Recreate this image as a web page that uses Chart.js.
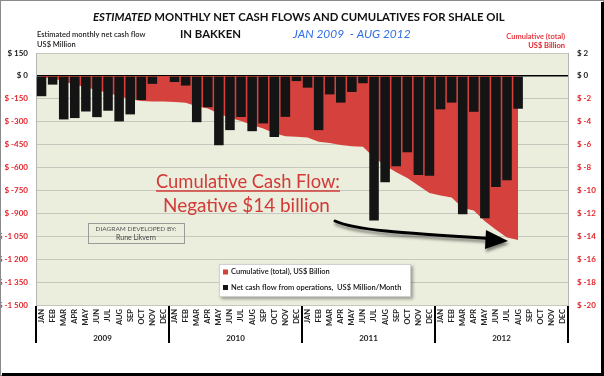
<!DOCTYPE html>
<html><head><meta charset="utf-8">
<script src="https://cdn.jsdelivr.net/npm/chart.js@4/dist/chart.umd.min.js"></script>
<style>html,body{margin:0;padding:0;background:#fff;}#wrap{position:relative;width:604px;height:376px;}canvas{display:block;}</style>
</head><body><div id="wrap"><canvas id="c" width="604" height="376"></canvas></div>
<script>
// ---- DATA ----
const monthLabels = ['JAN','FEB','MAR','APR','MAY','JUN','JUL','AUG','SEP','OCT','NOV','DEC'];
const yearLabels = ['2009','2010','2011','2012'];
// Net cash flow from operations, US$ Million / month
const netCash2009 = [-133,-57,-285,-276,-233,-270,-228,-298,-252,-158,-52,null];
const netCash2010 = [-40,-63,-303,-205,-454,-355,-269,-362,-311,-400,-268,-34];
const netCash2011 = [-77,-355,-121,-175,-105,-48,-947,-697,-592,-500,-649,-654];
const netCash2012 = [-219,-175,-906,-235,-932,-728,-684,-215,null,null,null,null];
// Cumulative (total), US$ Billion
const cum2009 = [-0.13,-0.19,-0.48,-0.75,-0.98,-1.25,-1.48,-1.78,-2.03,-2.19,-2.24,-2.24];
const cum2010 = [-2.28,-2.35,-2.65,-2.85,-3.31,-3.66,-3.93,-4.29,-4.60,-5.00,-5.27,-5.31];
const cum2011 = [-5.38,-5.74,-5.86,-6.03,-6.14,-6.19,-7.13,-7.83,-8.42,-8.92,-9.57,-10.23];
const cum2012 = [-10.45,-10.62,-11.53,-11.76,-12.69,-13.42,-14.11,-14.32,null,null,null,null];
const leftTicks = {min:-1500, max:150, step:150};
const rightTicks = {min:-20, max:2, step:2};

const categories = yearLabels.flatMap(() => monthLabels);
const netCash = [...netCash2009, ...netCash2010, ...netCash2011, ...netCash2012];
const cumulative = [...cum2009, ...cum2010, ...cum2011, ...cum2012];

const FONT = 'Lato, "Open Sans", sans-serif';
const RED_TXT = '#e3242b';

function fmtLeft(v){
  const s = Math.abs(v).toString().replace(/\B(?=(\d{3})+(?!\d))/g,' ');
  return '$ ' + (v<0?'-':'') + s;
}
function fitSize(ctx, text, weight, style, target){
  ctx.font = style+' '+weight+' 20px '+FONT;
  return 20*target/ctx.measureText(text).width;
}

const decor = {
  id:'decor',
  beforeDraw(chart){
    const {ctx, chartArea:a} = chart;
    ctx.save();
    ctx.fillStyle = '#ebeedd';
    ctx.fillRect(a.left, a.top, a.right-a.left, a.bottom-a.top);
    ctx.restore();
  },
  afterDraw(chart){
    const {ctx, chartArea:a} = chart;
    const xs = chart.scales.x;
    ctx.save();
    // year dividers and labels
    const w = xs.getPixelForValue(1) - xs.getPixelForValue(0);
    const bounds = [];
    for(let i=0;i<=yearLabels.length;i++){
      bounds.push(i<yearLabels.length ? xs.getPixelForValue(i*12)-w/2 : xs.getPixelForValue(i*12-1)+w/2);
    }
    ctx.strokeStyle = '#000'; ctx.lineWidth = 2;
    bounds.forEach(b=>{ctx.beginPath();ctx.moveTo(Math.round(b),a.bottom+1);ctx.lineTo(Math.round(b),343);ctx.stroke();});
    ctx.fillStyle = '#222'; ctx.font = 'bold 8px '+FONT; ctx.textAlign='center'; ctx.textBaseline='middle';
    yearLabels.forEach((y,i)=>ctx.fillText(y,(bounds[i]+bounds[i+1])/2,338));

    // titles
    ctx.textBaseline = 'alphabetic';
    const t1a = 'ESTIMATED', t1b = ' MONTHLY NET CASH FLOWS AND CUMULATIVES FOR SHALE OIL';
    ctx.font = 'italic bold 20px '+FONT; const wa = ctx.measureText(t1a).width;
    ctx.font = 'bold 20px '+FONT; const wb = ctx.measureText(t1b).width;
    const ts = 20*412/(wa+wb);
    ctx.fillStyle = '#111'; ctx.textAlign='left';
    ctx.font = 'italic bold '+ts+'px '+FONT; ctx.fillText(t1a,93,21);
    ctx.font = 'bold '+ts+'px '+FONT; ctx.fillText(t1b,93+wa*ts/20,21);
    ctx.fillText('IN BAKKEN',180,38);
    ctx.fillStyle = '#2f6fe4';
    ctx.font = 'italic '+ts*1.05+'px '+FONT; ctx.fillText('JAN 2009  - AUG 2012',293,38);

    ctx.fillStyle = '#222'; ctx.font = '600 7.5px '+FONT;
    ctx.fillText('Estimated monthly net cash flow',37,37);
    ctx.fillText('US$ Million',37,47);
    ctx.fillStyle = RED_TXT; ctx.textAlign='right';
    ctx.fillText('Cumulative (total)',565,39);
    ctx.font = 'bold 7.5px '+FONT;
    ctx.fillText('US$ Billion',565,48);

    // big annotation
    ctx.textAlign='left'; ctx.fillStyle='#d13a37';
    let s = fitSize(ctx,'Cumulative Cash Flow:','normal','normal',184);
    ctx.font = s+'px '+FONT; ctx.fillText('Cumulative Cash Flow:',156,188);
    ctx.strokeStyle='#d13a37'; ctx.lineWidth=1.3;
    ctx.beginPath(); ctx.moveTo(156,191); ctx.lineTo(340,191); ctx.stroke();
    s = fitSize(ctx,'Negative $14 billion','normal','normal',167);
    ctx.font = s+'px '+FONT; ctx.fillText('Negative $14 billion',163,212);

    // credit box
    ctx.strokeStyle='#9a9a9a'; ctx.lineWidth=1;
    ctx.strokeRect(88.5,223.5,96,20);
    ctx.fillStyle='#555'; ctx.textAlign='center'; ctx.font='6.5px '+FONT;
    ctx.fillText('DIAGRAM DEVELOPED BY:',136,231);
    ctx.font='7px '+FONT; ctx.fillStyle='#444';
    ctx.fillText('Rune Likvern',136,240);

    // arrow
    ctx.save();
    ctx.shadowColor='rgba(0,0,0,0.45)'; ctx.shadowOffsetY=3; ctx.shadowOffsetX=1; ctx.shadowBlur=3;
    ctx.strokeStyle='#000'; ctx.lineWidth=3; ctx.lineCap='round';
    ctx.beginPath(); ctx.moveTo(335,221); ctx.bezierCurveTo(355,230,400,233,490,238.5); ctx.stroke();
    ctx.fillStyle='#000';
    ctx.beginPath(); ctx.moveTo(486,230); ctx.lineTo(508,241); ctx.lineTo(485,249); ctx.closePath(); ctx.fill();
    ctx.restore();

    // legend
    ctx.save();
    ctx.shadowColor='rgba(0,0,0,0.35)'; ctx.shadowOffsetX=2; ctx.shadowOffsetY=2; ctx.shadowBlur=3;
    ctx.fillStyle='#fff'; ctx.fillRect(219,264,192,33);
    ctx.restore();
    ctx.strokeStyle='#d0d0d0'; ctx.lineWidth=1; ctx.strokeRect(219.5,264.5,191,32);
    const ds = chart.data.datasets;
    const order = [1,0];
    order.forEach((di,k)=>{
      const y = 272 + k*15.5;
      ctx.fillStyle = ds[di].backgroundColor; ctx.fillRect(223,y-2.5,5,5);
      ctx.fillStyle='#111'; ctx.textAlign='left'; ctx.textBaseline='middle'; ctx.font='600 7.5px '+FONT;
      ctx.fillText(ds[di].label,231,y);
    });

    // frame
    ctx.strokeStyle='#8a8a8a'; ctx.lineWidth=1; ctx.strokeRect(0.5,0.5,603,375);
    ctx.fillStyle='#000'; ctx.fillRect(2,373,602,3); ctx.fillRect(601,2,3,374);
    ctx.restore();
  }
};

new Chart(document.getElementById('c'), {
  type:'bar',
  data:{
    labels: categories,
    datasets:[
      {type:'bar', label:'Net cash flow from operations,  US$ Million/Month', data:netCash, yAxisID:'y',
       backgroundColor:'#141414', borderWidth:0, barPercentage:0.86, categoryPercentage:1, order:1},
      {type:'line', label:'Cumulative (total), US$ Billion', data:cumulative, yAxisID:'y1',
       backgroundColor:'#d5423d', borderColor:'#d5423d', borderWidth:0, pointRadius:0, tension:0,
       fill:'origin', order:2, spanGaps:false}
    ]
  },
  options:{
    responsive:false, animation:false, devicePixelRatio:1, events:[],
    layout:{padding:{top:53,left:0,right:0,bottom:0}},
    plugins:{legend:{display:false}, tooltip:{enabled:false}, title:{display:false}},
    scales:{
      x:{
        offset:true,
        grid:{display:false, drawTicks:false},
        border:{display:false},
        ticks:{autoSkip:false, minRotation:90, maxRotation:90, padding:4, color:'#222',
               font:{family:FONT, size:7.5, weight:'bold'}},
        afterFit(s){ s.height = 71; }
      },
      y:{
        position:'left', min:leftTicks.min, max:leftTicks.max,
        ticks:{stepSize:leftTicks.step, padding:8, callback:v=>fmtLeft(v),
               color:c=>c.tick.value>=0?'#1a1a1a':RED_TXT, font:{family:FONT,size:8,weight:'bold'}},
        grid:{drawTicks:false, color:c=>c.tick.value===0?'#000':'#c6c8bd', lineWidth:c=>c.tick.value===0?1.5:1},
        border:{display:true, color:'#b5b5b5'},
        afterFit(s){ s.width = 36; }
      },
      y1:{
        position:'right', min:rightTicks.min, max:rightTicks.max,
        ticks:{stepSize:rightTicks.step, padding:9, callback:v=>'$ '+v,
               color:c=>c.tick.value>=0?'#1a1a1a':RED_TXT, font:{family:FONT,size:8,weight:'bold'}},
        grid:{drawOnChartArea:false, drawTicks:false},
        border:{display:true, color:'#b5b5b5'},
        afterFit(s){ s.width = 36; }
      }
    }
  },
  plugins:[decor]
});
</script></body></html>
